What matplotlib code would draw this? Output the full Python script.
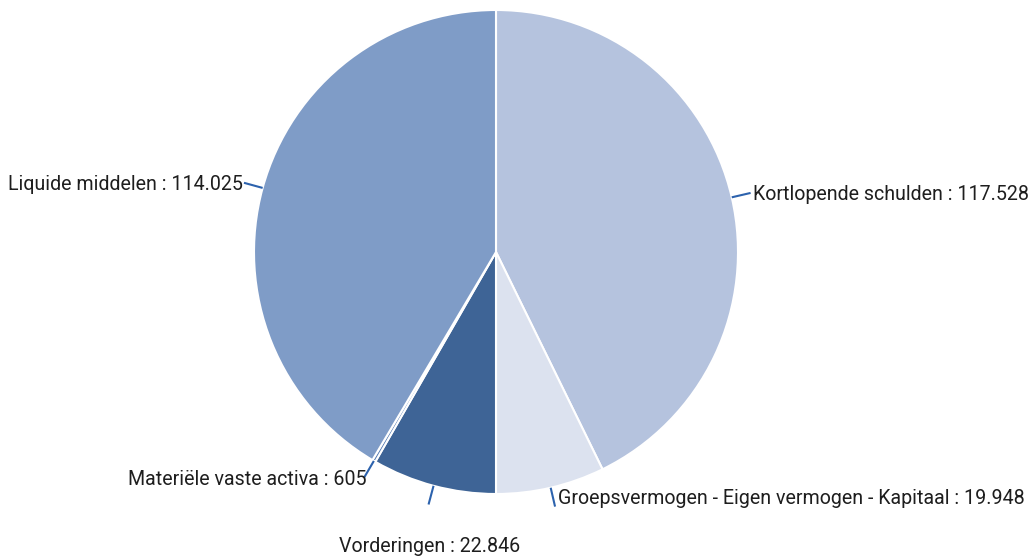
import numpy as np
import matplotlib
matplotlib.use("Agg")
import matplotlib.pyplot as plt

plt.rcParams['font.family'] = ['Roboto', 'DejaVu Sans']

labels = ["Kortlopende schulden", "Groepsvermogen - Eigen vermogen - Kapitaal",
          "Vorderingen", "Materiële vaste activa", "Liquide middelen"]
values = [117528, 19948, 22846, 605, 114025]
colors = ["#b5c3de", "#dce2ef", "#3e6496", "#5a7fb5", "#7f9cc7"]

# label placement: (ha, va, dx px, dy px) from end of leader line
label_pos = [("left", "center", 2, -2),
             ("left", "center", 3, 8),
             ("center", "top", 1, -32),
             ("right", "center", 2, -2),
             ("right", "center", -1, -2)]

def fmt(v):
    return f"{v:,}".replace(",", ".")

fig = plt.figure(figsize=(10.35, 5.58), dpi=100)
ax = fig.add_axes([0, 0, 1, 1])
wedges, _ = ax.pie(values, colors=colors, startangle=90, counterclock=False,
                   wedgeprops=dict(edgecolor="white", linewidth=1.5))

for w, lab, v, (ha, va, dx, dy) in zip(wedges, labels, values, label_pos):
    ang = np.deg2rad((w.theta1 + w.theta2) / 2)
    x0, y0 = np.cos(ang), np.sin(ang)
    x1, y1 = 1.08 * x0, 1.08 * y0
    ax.plot([x0, x1], [y0, y1], color="#2c62ad", lw=1.5, solid_capstyle="butt")
    ax.annotate(f"{lab} : {fmt(v)}", (x1, y1), xytext=(dx * 0.72, dy * 0.72),
                textcoords="offset points", ha=ha, va=va, fontsize=14.1, color="#1e1e1e")

ppu = 242
ax.set_xlim(-496 / ppu, (1035 - 496) / ppu)
ax.set_ylim(-(558 - 252) / ppu, 252 / ppu)
ax.set_aspect("auto")
ax.axis("off")
fig.savefig("out.png", dpi=100)
